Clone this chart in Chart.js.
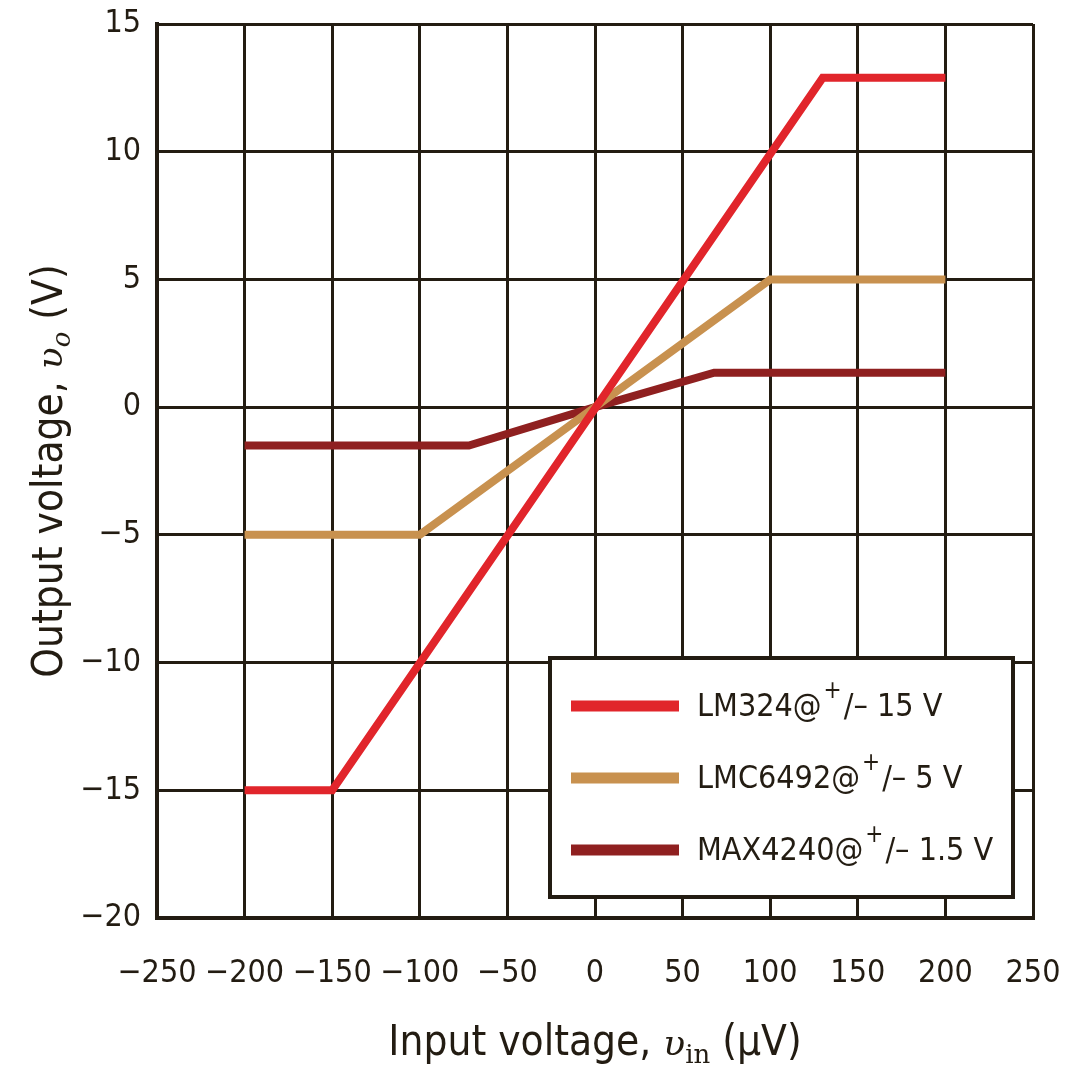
<!DOCTYPE html>
<html>
<head>
<meta charset="utf-8">
<script src="https://cdn.jsdelivr.net/npm/chart.js@4/dist/chart.umd.min.js"></script>
<style>
  html, body { margin: 0; padding: 0; background: #fff; }
  #wrap { width: 1081px; height: 1065px; position: relative; }
</style>
</head>
<body>
<div id="wrap"><canvas id="chart"></canvas></div>
<script>
// data (input in µV, output in V)
const lm324X = [-200, -150, 130, 200];
const lm324Y = [-15, -15, 12.9, 12.9];
const lmc6492X = [-200, -100, 100, 200];
const lmc6492Y = [-5, -5, 5, 5];
const max4240X = [-200, -72, 0, 68, 200];
const max4240Y = [-1.5, -1.5, 0, 1.35, 1.35];

const seriesNames = ['LM324@', 'LMC6492@', 'MAX4240@'];
const seriesSupply = ['/\u2013 15 V', '/\u2013 5 V', '/\u2013 1.5 V'];
const seriesColors = ['#e1252b', '#c8914f', '#8f2020'];

const xTicks = [-250, -200, -150, -100, -50, 0, 50, 100, 150, 200, 250];
const yTicks = [-20, -15, -10, -5, 0, 5, 10, 15];

const FONT = "'Liberation Sans Narrow', 'DejaVu Sans Condensed', 'Roboto Condensed', sans-serif";
const INK = '#231c12';

function toPoints(xs, ys) {
  return xs.map((x, i) => ({ x: x, y: ys[i] }));
}

function minusFmt(v) {
  return v < 0 ? '\u2212' + Math.abs(v) : String(v);
}

// legend box + axis titles drawn by hand
const decor = {
  id: 'decor',
  afterDatasetsDraw(chart) {
    const ctx = chart.ctx;
    const a = chart.chartArea;
    ctx.save();

    // legend box
    const bx = 550, by = 658, bw = 463, bh = 239;
    ctx.fillStyle = '#fff';
    ctx.fillRect(bx, by, bw, bh);
    ctx.strokeStyle = INK;
    ctx.lineWidth = 4;
    ctx.strokeRect(bx, by, bw, bh);

    chart.data.datasets.forEach((ds, i) => {
      const y = 706 + i * 72;
      ctx.strokeStyle = ds.borderColor;
      ctx.lineWidth = 11;
      ctx.beginPath();
      ctx.moveTo(571, y);
      ctx.lineTo(679, y);
      ctx.stroke();

      ctx.fillStyle = INK;
      ctx.textBaseline = 'middle';
      ctx.textAlign = 'left';
      ctx.font = '32px ' + FONT;
      let x = 697;
      ctx.fillText(seriesNames[i], x, y + 2);
      x += ctx.measureText(seriesNames[i]).width + 2;
      ctx.font = '24px ' + FONT;
      ctx.fillText('+', x, y - 14);
      x += ctx.measureText('+').width + 2;
      ctx.font = '32px ' + FONT;
      ctx.fillText(seriesSupply[i], x, y + 2);
    });

    // x axis title: Input voltage, υin (µV)
    ctx.fillStyle = INK;
    ctx.textBaseline = 'alphabetic';
    const t1 = 'Input voltage, ';
    const t2 = 'υ';
    const t3 = 'in';
    const t4 = ' (µV)';
    ctx.font = '42px ' + FONT;
    const w1 = ctx.measureText(t1).width;
    const w4 = ctx.measureText(t4).width;
    ctx.font = 'italic 36px DejaVu Serif';
    const w2 = ctx.measureText(t2).width;
    ctx.font = '26px DejaVu Serif';
    const w3 = ctx.measureText(t3).width;
    let tx = (a.left + a.right) / 2 - (w1 + w2 + w3 + w4) / 2;
    const ty = 1055;
    ctx.font = '42px ' + FONT;
    ctx.fillText(t1, tx, ty); tx += w1;
    ctx.font = 'italic 36px DejaVu Serif';
    ctx.fillText(t2, tx, ty); tx += w2;
    ctx.font = '26px DejaVu Serif';
    ctx.fillText(t3, tx, ty + 8); tx += w3;
    ctx.font = '42px ' + FONT;
    ctx.fillText(t4, tx, ty);

    // y axis title: Output voltage, υo (V)
    ctx.translate(62, (a.top + a.bottom) / 2);
    ctx.rotate(-Math.PI / 2);
    const s1 = 'Output voltage, ';
    const s2 = 'υ';
    const s3 = 'o';
    const s4 = ' (V)';
    ctx.font = '42px ' + FONT;
    const v1 = ctx.measureText(s1).width;
    const v4 = ctx.measureText(s4).width;
    ctx.font = 'italic 36px DejaVu Serif';
    const v2 = ctx.measureText(s2).width;
    ctx.font = 'italic 26px DejaVu Serif';
    const v3 = ctx.measureText(s3).width;
    let sx = -(v1 + v2 + v3 + v4) / 2;
    ctx.font = '42px ' + FONT;
    ctx.fillText(s1, sx, 0); sx += v1;
    ctx.font = 'italic 36px DejaVu Serif';
    ctx.fillText(s2, sx, 0); sx += v2;
    ctx.font = 'italic 26px DejaVu Serif';
    ctx.fillText(s3, sx, 8); sx += v3;
    ctx.font = '42px ' + FONT;
    ctx.fillText(s4, sx, 0);

    ctx.restore();
  }
};

const lineStyle = (label, pts, color) => ({
  label: label,
  data: pts,
  borderColor: color,
  backgroundColor: color,
  borderWidth: 8,
  pointRadius: 0,
  tension: 0,
  fill: false,
  borderCapStyle: 'butt',
  borderJoinStyle: 'miter'
});

new Chart(document.getElementById('chart').getContext('2d'), {
  type: 'line',
  data: {
    datasets: [
      lineStyle('LM324@+/\u2013 15 V', toPoints(lm324X, lm324Y), seriesColors[0]),
      lineStyle('LMC6492@+/\u2013 5 V', toPoints(lmc6492X, lmc6492Y), seriesColors[1]),
      lineStyle('MAX4240@+/\u2013 1.5 V', toPoints(max4240X, max4240Y), seriesColors[2])
    ]
  },
  options: {
    responsive: true,
    maintainAspectRatio: false,
    animation: false,
    layout: { padding: { top: 24, right: 48, left: 0, bottom: 0 } },
    plugins: {
      legend: { display: false },
      tooltip: { enabled: false }
    },
    scales: {
      x: {
        type: 'linear',
        min: -250,
        max: 250,
        afterBuildTicks: s => { s.ticks = xTicks.map(v => ({ value: v })); },
        afterFit: s => { s.height = 147; s.paddingLeft = 0; s.paddingRight = 0; },
        grid: { color: INK, lineWidth: 3, drawTicks: false },
        border: { color: INK, width: 4 },
        ticks: {
          color: INK,
          padding: 36,
          maxRotation: 0,
          autoSkip: false,
          font: { family: FONT, size: 32 },
          callback: v => minusFmt(v)
        }
      },
      y: {
        type: 'linear',
        min: -20,
        max: 15,
        afterBuildTicks: s => { s.ticks = yTicks.map(v => ({ value: v })); },
        afterFit: s => { s.width = 157; s.paddingTop = 0; s.paddingBottom = 0; },
        grid: { color: INK, lineWidth: 3, drawTicks: false },
        border: { color: INK, width: 4 },
        ticks: {
          color: INK,
          padding: 16,
          autoSkip: false,
          font: { family: FONT, size: 32 },
          callback: v => minusFmt(v)
        }
      }
    }
  },
  plugins: [decor]
});
</script>
</body>
</html>
